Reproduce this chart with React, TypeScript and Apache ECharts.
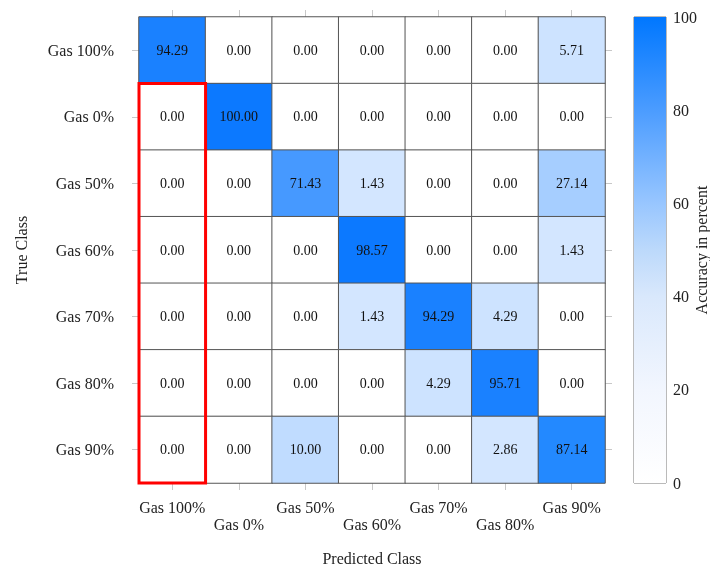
import React, { useEffect, useRef } from "react";
import * as echarts from "echarts";

const classes = ["Gas 100%", "Gas 0%", "Gas 50%", "Gas 60%", "Gas 70%", "Gas 80%", "Gas 90%"];

// rows = true class, columns = predicted class (percent)
const matrix: number[][] = [
  [94.29, 0.0, 0.0, 0.0, 0.0, 0.0, 5.71],
  [0.0, 100.0, 0.0, 0.0, 0.0, 0.0, 0.0],
  [0.0, 0.0, 71.43, 1.43, 0.0, 0.0, 27.14],
  [0.0, 0.0, 0.0, 98.57, 0.0, 0.0, 1.43],
  [0.0, 0.0, 0.0, 1.43, 94.29, 4.29, 0.0],
  [0.0, 0.0, 0.0, 0.0, 4.29, 95.71, 0.0],
  [0.0, 0.0, 10.0, 0.0, 0.0, 2.86, 87.14],
];

const colorbarTicks = [0, 20, 40, 60, 80, 100];

// highlighted block: [colStart, rowStart, colEnd, rowEnd]
const highlight = [[0, 1, 0, 6]];

const FONT = "Liberation Serif";

export default function App() {
  const ref = useRef<HTMLDivElement>(null);

  useEffect(() => {
    if (!ref.current) return;
    const chart = echarts.init(ref.current, undefined, { renderer: "svg" });

    const cells: number[][] = [];
    matrix.forEach((row, r) => row.forEach((v, c) => cells.push([c, r, v])));

    const tickStyle = { show: true, alignWithLabel: true, length: 7, lineStyle: { color: "#c8c8c8" } };

    chart.setOption({
      animation: false,
      textStyle: { fontFamily: FONT },
      grid: [
        { left: 139, top: 17, width: 466, height: 466, outerBoundsMode: "none", containLabel: false },
        {
          left: 634, top: 17, width: 32, height: 466, show: true, outerBoundsMode: "none", containLabel: false,
          borderColor: "#777", borderWidth: 1, backgroundColor: "transparent",
        },
      ],
      xAxis: [
        {
          type: "category", data: classes, gridIndex: 0, position: "bottom",
          name: "Predicted Class", nameLocation: "middle", nameGap: 67,
          nameTextStyle: { fontFamily: FONT, fontSize: 16, color: "#222" },
          axisLine: { show: false }, axisTick: tickStyle, splitLine: { show: false },
          axisLabel: {
            interval: 0, margin: 16, fontFamily: FONT, fontSize: 16, color: "#222", lineHeight: 17,
            formatter: (v: string, i: number) => (i % 2 === 1 ? "\n" + v : v),
          },
        },
        {
          type: "category", data: classes, gridIndex: 0, position: "top",
          axisLine: { show: false }, axisTick: tickStyle, axisLabel: { show: false },
        },
        {
          type: "category", data: ["bar"], gridIndex: 1,
          axisLine: { show: false }, axisTick: { show: false }, axisLabel: { show: false },
        },
      ],
      yAxis: [
        {
          type: "category", data: classes, gridIndex: 0, inverse: true, position: "left",
          name: "True Class", nameLocation: "middle", nameGap: 110, nameRotate: 90,
          nameTextStyle: { fontFamily: FONT, fontSize: 16, color: "#222" },
          axisLine: { show: false }, axisTick: tickStyle, splitLine: { show: false },
          axisLabel: { interval: 0, margin: 25, fontFamily: FONT, fontSize: 16, color: "#222" },
        },
        {
          type: "category", data: classes, gridIndex: 0, inverse: true, position: "right",
          axisLine: { show: false }, axisTick: tickStyle, axisLabel: { show: false },
        },
        {
          type: "value", gridIndex: 1, position: "right", min: colorbarTicks[0],
          max: colorbarTicks[colorbarTicks.length - 1], interval: 20,
          name: "Accuracy in percent", nameLocation: "middle", nameGap: 27, nameRotate: 90,
          nameMoveOverlap: false,
          nameTextStyle: { fontFamily: FONT, fontSize: 16, color: "#222" },
          axisLine: { show: false }, axisTick: { show: false }, splitLine: { show: false },
          axisLabel: { margin: 7, fontFamily: FONT, fontSize: 16, color: "#222" },
        },
      ],
      visualMap: {
        type: "piecewise", show: false, seriesIndex: 0, dimension: 2,
        pieces: [
          { value: 0, color: "#ffffff" },
          { gt: 0, lt: 3, color: "#d3e6ff" },
          { gte: 3, lt: 8, color: "#cde3ff" },
          { gte: 8, lt: 20, color: "#c0dcff" },
          { gte: 20, lt: 50, color: "#a6ceff" },
          { gte: 50, lt: 80, color: "#4699ff" },
          { gte: 80, lt: 90, color: "#2389ff" },
          { gte: 90, lt: 97, color: "#1a81ff" },
          { gte: 97, lte: 100, color: "#0c79ff" },
        ],
      },
      series: [
        {
          type: "heatmap", xAxisIndex: 0, yAxisIndex: 0, data: cells,
          itemStyle: { borderColor: "#555", borderWidth: 1 },
          label: {
            show: true, fontFamily: FONT, fontSize: 14, color: "#111",
            formatter: (p: any) => Number(p.value[2]).toFixed(2),
          },
          emphasis: { disabled: true },
        },
        {
          type: "custom", xAxisIndex: 0, yAxisIndex: 0, data: highlight, z: 10,
          encode: { x: [0, 2], y: [1, 3] },
          renderItem: (_params: any, api: any) => {
            const p1 = api.coord([api.value(0), api.value(1)]);
            const p2 = api.coord([api.value(2), api.value(3)]);
            const size = api.size([1, 1]);
            return {
              type: "rect",
              shape: {
                x: p1[0] - size[0] / 2,
                y: p1[1] - size[1] / 2,
                width: p2[0] - p1[0] + size[0],
                height: p2[1] - p1[1] + size[1],
              },
              style: { fill: "none", stroke: "#ff0000", lineWidth: 3 },
            };
          },
        },
        {
          type: "bar", xAxisIndex: 2, yAxisIndex: 2, barWidth: "100%", silent: true,
          data: [colorbarTicks[colorbarTicks.length - 1]],
          itemStyle: {
            color: new echarts.graphic.LinearGradient(0, 0, 0, 1, [
              { offset: 0, color: "#0077ff" },
              { offset: 0.2, color: "#4b9cff" },
              { offset: 0.4, color: "#98c6ff" },
              { offset: 0.5, color: "#bcd9fb" },
              { offset: 0.6, color: "#d9e8fc" },
              { offset: 0.8, color: "#f2f6fe" },
              { offset: 1, color: "#ffffff" },
            ]),
          },
        },
      ],
    });

    return () => chart.dispose();
  }, []);

  return <div ref={ref} style={{ position: "fixed", left: 0, top: 0, width: 710, height: 568 }} />;
}
